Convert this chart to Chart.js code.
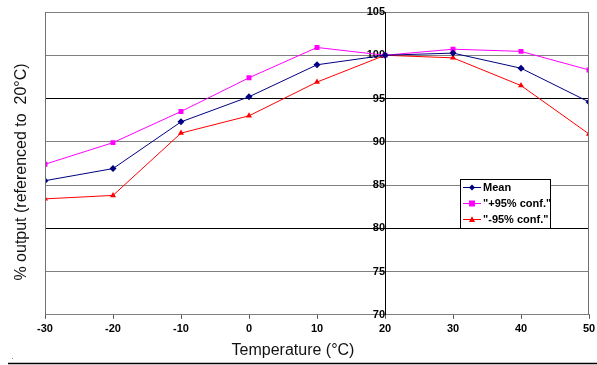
<!DOCTYPE html>
<html><head><meta charset="utf-8">
<script src="https://cdn.jsdelivr.net/npm/chart.js@4/dist/chart.umd.min.js"></script>
<style>html,body{margin:0;padding:0;background:#fff;}#wrap{width:597px;height:365px;position:relative}</style>
</head><body><div id="wrap"><canvas id="c" width="597" height="365"></canvas></div>
<script>
const temperatures = [-30, -20, -10, 0, 10, 20, 30, 40, 50];
const meanValues  = [85.5, 86.9, 92.3, 95.2, 98.9, 100, 100.25, 98.5, 94.6];
const upperValues = [87.4, 89.9, 93.5, 97.4, 100.9, 100, 100.7, 100.45, 98.3];
const lowerValues = [83.4, 83.8, 91.0, 93.0, 96.9, 100, 99.7, 96.5, 90.9];
const yTicks = [70, 75, 80, 85, 90, 95, 100, 105];
const xTicks = [-30, -20, -10, 0, 10, 20, 30, 40, 50];
const seriesLabels = ['Mean', '"+95% conf."', '"-95% conf."'];
const xTitle = 'Temperature (°C)';
const yTitle = '% output (referenced to  20°C)';

const toPts = vals => temperatures.map((t, i) => ({x: t, y: vals[i]}));
const FONT = '"Liberation Sans", Arial, sans-serif';

function drawMarker(ctx, style, x, y, r, color) {
  ctx.save();
  ctx.fillStyle = color;
  ctx.beginPath();
  if (style === 'rectRot') {
    ctx.moveTo(x, y - r); ctx.lineTo(x + r, y); ctx.lineTo(x, y + r); ctx.lineTo(x - r, y);
  } else if (style === 'rect') {
    ctx.rect(x - r, y - r, 2 * r, 2 * r);
  } else {
    ctx.moveTo(x, y - r * 1.1); ctx.lineTo(x + r, y + r * 0.8); ctx.lineTo(x - r, y + r * 0.8);
  }
  ctx.closePath();
  ctx.fill();
  ctx.restore();
}

const decor = {
  id: 'decor',
  afterDraw(chart) {
    const ctx = chart.ctx;
    const a = chart.chartArea;
    ctx.save();
    ctx.strokeStyle = '#707070';
    ctx.lineWidth = 1;
    ctx.beginPath();
    ctx.moveTo(Math.round(a.left) + 0.5, a.top); ctx.lineTo(Math.round(a.left) + 0.5, a.bottom);
    ctx.moveTo(Math.round(a.right) - 0.5, a.top); ctx.lineTo(Math.round(a.right) - 0.5, a.bottom);
    ctx.stroke();

    ctx.fillStyle = '#111';
    ctx.font = '16px ' + FONT;
    ctx.textAlign = 'center';
    ctx.textBaseline = 'alphabetic';
    ctx.fillText(xTitle, 293, 355);
    ctx.save();
    ctx.translate(22, 172);
    ctx.rotate(-Math.PI / 2);
    ctx.textBaseline = 'middle';
    ctx.fillText(yTitle, 0, 0);
    ctx.restore();

    const lx = 460, ly = 179, lw = 90, lh = 49;
    ctx.fillStyle = '#fff';
    ctx.fillRect(lx, ly, lw, lh);
    ctx.strokeStyle = '#000';
    ctx.strokeRect(lx + 0.5, ly + 0.5, lw, lh);
    ctx.font = 'bold 11px ' + FONT;
    ctx.textAlign = 'left';
    ctx.textBaseline = 'middle';
    chart.data.datasets.forEach((ds, i) => {
      const y = ly + 8 + i * 16;
      ctx.strokeStyle = ds.borderColor;
      ctx.lineWidth = 1;
      ctx.beginPath();
      ctx.moveTo(lx + 3, y + 0.5); ctx.lineTo(lx + 21, y + 0.5);
      ctx.stroke();
      drawMarker(ctx, ds.pointStyle, lx + 12, y + 0.5, 3, ds.borderColor);
      ctx.fillStyle = '#000';
      ctx.fillText(ds.label, lx + 23, y + 1);
    });

    ctx.strokeStyle = '#000';
    ctx.lineWidth = 1.5;
    ctx.beginPath();
    ctx.moveTo(8, 363.5); ctx.lineTo(597, 363.5);
    ctx.stroke();
    ctx.fillStyle = '#888';
    ctx.fillRect(12, 358, 1, 1);
    ctx.restore();
  }
};

const styles = [
  {color: '#000080', point: 'rectRot', r: 3.5},
  {color: '#FF00FF', point: 'rect', r: 3.5},
  {color: '#FF0000', point: 'triangle', r: 3.5}
];
const seriesData = [meanValues, upperValues, lowerValues];

new Chart(document.getElementById('c'), {
  type: 'line',
  data: {
    datasets: seriesData.map((vals, i) => ({
      label: seriesLabels[i],
      data: toPts(vals),
      borderColor: styles[i].color,
      backgroundColor: styles[i].color,
      borderWidth: 1,
      pointStyle: styles[i].point,
      pointRadius: styles[i].r,
      pointBorderWidth: 0,
      tension: 0
    }))
  },
  options: {
    responsive: false,
    animation: false,
    devicePixelRatio: 1,
    layout: {padding: {left: 45, right: 8, top: 12, bottom: 25}},
    plugins: {legend: {display: false}, tooltip: {enabled: false}},
    scales: {
      x: {
        type: 'linear', min: -30, max: 50,
        afterBuildTicks: s => { s.ticks = xTicks.map(v => ({value: v})); },
        afterFit: s => { s.paddingRight = 0; s.paddingLeft = 0; },
        grid: {drawOnChartArea: false, drawTicks: true, tickLength: 4, color: '#555'},
        border: {display: true, color: '#808080'},
        ticks: {font: {family: FONT, weight: 'bold', size: 11}, color: '#000', padding: 4, maxRotation: 0}
      },
      y: {
        type: 'linear', min: 70, max: 105,
        position: {x: 20},
        afterBuildTicks: s => { s.ticks = yTicks.map(v => ({value: v})); },
        afterFit: s => { s.paddingTop = 0; s.paddingBottom = 0; },
        grid: {drawTicks: false, color: c => (c.tick && (c.tick.value === 95 || c.tick.value === 80)) ? '#000' : '#808080'},
        border: {display: true, color: '#000'},
        ticks: {font: {family: FONT, weight: 'bold', size: 11}, color: '#000', padding: 7}
      }
    }
  },
  plugins: [decor]
});
</script></body></html>
